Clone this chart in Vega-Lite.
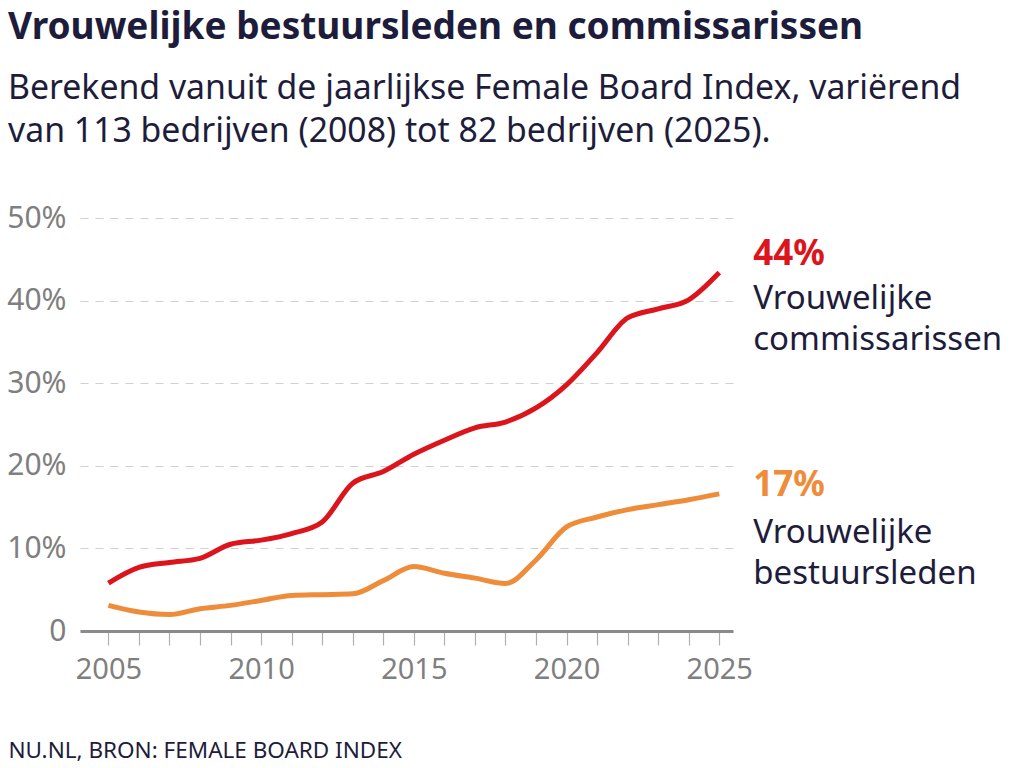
{
  "$schema": "https://vega.github.io/schema/vega-lite/v6.json",
  "autosize": {"type": "none"},
  "padding": {"left": 80, "top": 218, "right": 291, "bottom": 137},
  "width": 653,
  "height": 413,
  "background": "white",
  "config": {"view": {"stroke": null}, "font": "Noto Sans"},
  "title": {
    "text": "Vrouwelijke bestuursleden en commissarissen",
    "subtitle": ["Berekend vanuit de jaarlijkse Female Board Index, variërend", "van 113 bedrijven (2008) tot 82 bedrijven (2025)."],
    "anchor": "start",
    "frame": "group",
    "dx": -72,
    "font": "Noto Sans",
    "fontSize": 37,
    "fontWeight": "bold",
    "color": "#1d1d3b",
    "subtitleFont": "Noto Sans",
    "subtitleFontSize": 33.8,
    "subtitleColor": "#1d1d3b",
    "subtitleLineHeight": 43,
    "subtitlePadding": 25,
    "offset": 53
  },
  "datasets": {
    "series": [
      {"year": 2005, "serie": "commissarissen", "value": 5.8},
      {"year": 2006, "serie": "commissarissen", "value": 7.7},
      {"year": 2007, "serie": "commissarissen", "value": 8.3},
      {"year": 2008, "serie": "commissarissen", "value": 8.8},
      {"year": 2009, "serie": "commissarissen", "value": 10.5},
      {"year": 2010, "serie": "commissarissen", "value": 11.0},
      {"year": 2011, "serie": "commissarissen", "value": 11.8},
      {"year": 2012, "serie": "commissarissen", "value": 13.2},
      {"year": 2013, "serie": "commissarissen", "value": 17.9},
      {"year": 2014, "serie": "commissarissen", "value": 19.3},
      {"year": 2015, "serie": "commissarissen", "value": 21.4},
      {"year": 2016, "serie": "commissarissen", "value": 23.1},
      {"year": 2017, "serie": "commissarissen", "value": 24.6},
      {"year": 2018, "serie": "commissarissen", "value": 25.3},
      {"year": 2019, "serie": "commissarissen", "value": 27.0},
      {"year": 2020, "serie": "commissarissen", "value": 29.8},
      {"year": 2021, "serie": "commissarissen", "value": 33.7},
      {"year": 2022, "serie": "commissarissen", "value": 37.9},
      {"year": 2023, "serie": "commissarissen", "value": 39.0},
      {"year": 2024, "serie": "commissarissen", "value": 40.1},
      {"year": 2025, "serie": "commissarissen", "value": 43.4},
      {"year": 2005, "serie": "bestuursleden", "value": 3.1},
      {"year": 2006, "serie": "bestuursleden", "value": 2.3},
      {"year": 2007, "serie": "bestuursleden", "value": 2.0},
      {"year": 2008, "serie": "bestuursleden", "value": 2.7},
      {"year": 2009, "serie": "bestuursleden", "value": 3.1},
      {"year": 2010, "serie": "bestuursleden", "value": 3.7},
      {"year": 2011, "serie": "bestuursleden", "value": 4.3},
      {"year": 2012, "serie": "bestuursleden", "value": 4.4},
      {"year": 2013, "serie": "bestuursleden", "value": 4.5},
      {"year": 2014, "serie": "bestuursleden", "value": 6.1},
      {"year": 2015, "serie": "bestuursleden", "value": 7.8},
      {"year": 2016, "serie": "bestuursleden", "value": 7.0},
      {"year": 2017, "serie": "bestuursleden", "value": 6.4},
      {"year": 2018, "serie": "bestuursleden", "value": 5.75},
      {"year": 2019, "serie": "bestuursleden", "value": 8.6},
      {"year": 2020, "serie": "bestuursleden", "value": 12.6},
      {"year": 2021, "serie": "bestuursleden", "value": 13.8},
      {"year": 2022, "serie": "bestuursleden", "value": 14.7},
      {"year": 2023, "serie": "bestuursleden", "value": 15.3},
      {"year": 2024, "serie": "bestuursleden", "value": 15.9},
      {"year": 2025, "serie": "bestuursleden", "value": 16.6}
    ],
    "labels": [
      {"year": 2025, "serie": "commissarissen", "value": 44, "pctText": "44%", "name": "Vrouwelijke\ncommissarissen"},
      {"year": 2025, "serie": "bestuursleden", "value": 17, "pctText": "17%", "name": "Vrouwelijke\nbestuursleden"}
    ]
  },
  "encoding": {
    "x": {
      "field": "year", "type": "quantitative",
      "scale": {"domain": [2004.07, 2025.45], "nice": false, "zero": false},
      "axis": {
        "values": [2005, 2006, 2007, 2008, 2009, 2010, 2011, 2012, 2013, 2014, 2015, 2016, 2017, 2018, 2019, 2020, 2021, 2022, 2023, 2024, 2025],
        "labelExpr": "datum.value % 5 === 0 ? format(datum.value, 'd') : ''",
        "grid": false,
        "domainColor": "#8a8a8a",
        "domainWidth": 3,
        "tickColor": "#b0b0b0",
        "tickWidth": 1.2,
        "tickSize": 14,
        "labelFontSize": 29,
        "labelColor": "#7f7f7f",
        "labelPadding": 10,
        "labelFlush": false,
        "labelOverlap": false,
        "labelSeparation": -40,
        "title": "NU.NL, BRON: FEMALE BOARD INDEX",
        "titleFont": "Noto Sans",
        "titleFontSize": 22.5,
        "titleFontWeight": "normal",
        "titleColor": "#1d1d3b",
        "titleAnchor": "start",
        "titleAlign": "left",
        "titleBaseline": "alphabetic",
        "titleX": -72,
        "titleY": 126
      }
    },
    "y": {
      "field": "value", "type": "quantitative",
      "scale": {"domain": [0, 50], "nice": false},
      "axis": {
        "values": [0, 10, 20, 30, 40, 50],
        "labelExpr": "datum.value === 0 ? '0' : datum.value + '%'",
        "domain": false,
        "ticks": false,
        "gridDash": [8, 7],
        "gridColor": "#d0d0d0",
        "gridWidth": 1.2,
        "labelFontSize": 30,
        "labelColor": "#7f7f7f",
        "labelPadding": 14,
        "title": null
      }
    }
  },
  "layer": [
    {
      "data": {"name": "series"},
      "mark": {"type": "line", "interpolate": "monotone", "strokeWidth": 5, "strokeCap": "butt"},
      "encoding": {
        "color": {
          "field": "serie", "type": "nominal",
          "scale": {"domain": ["commissarissen", "bestuursleden"], "range": ["#dc141c", "#ee8c3a"]},
          "legend": null
        }
      }
    },
    {
      "data": {"name": "labels"},
      "transform": [{"filter": "datum.serie === 'commissarissen'"}],
      "mark": {"type": "text", "align": "left", "baseline": "alphabetic", "dx": 34, "dy": -3, "fontSize": 35, "fontWeight": "bold", "color": "#dc141c"},
      "encoding": {"text": {"field": "pctText"}}
    },
    {
      "data": {"name": "labels"},
      "transform": [{"filter": "datum.serie === 'commissarissen'"}],
      "mark": {"type": "text", "align": "left", "baseline": "alphabetic", "dx": 34, "dy": 41.5, "fontSize": 33, "lineHeight": 41, "lineBreak": "\n", "color": "#1d1d3b"},
      "encoding": {"text": {"field": "name"}}
    },
    {
      "data": {"name": "labels"},
      "transform": [{"filter": "datum.serie === 'bestuursleden'"}],
      "mark": {"type": "text", "align": "left", "baseline": "alphabetic", "dx": 34, "dy": 5, "fontSize": 35, "fontWeight": "bold", "color": "#ee8c3a"},
      "encoding": {"text": {"field": "pctText"}}
    },
    {
      "data": {"name": "labels"},
      "transform": [{"filter": "datum.serie === 'bestuursleden'"}],
      "mark": {"type": "text", "align": "left", "baseline": "alphabetic", "dx": 34, "dy": 52, "fontSize": 33, "lineHeight": 41, "lineBreak": "\n", "color": "#1d1d3b"},
      "encoding": {"text": {"field": "name"}}
    }
  ]
}
